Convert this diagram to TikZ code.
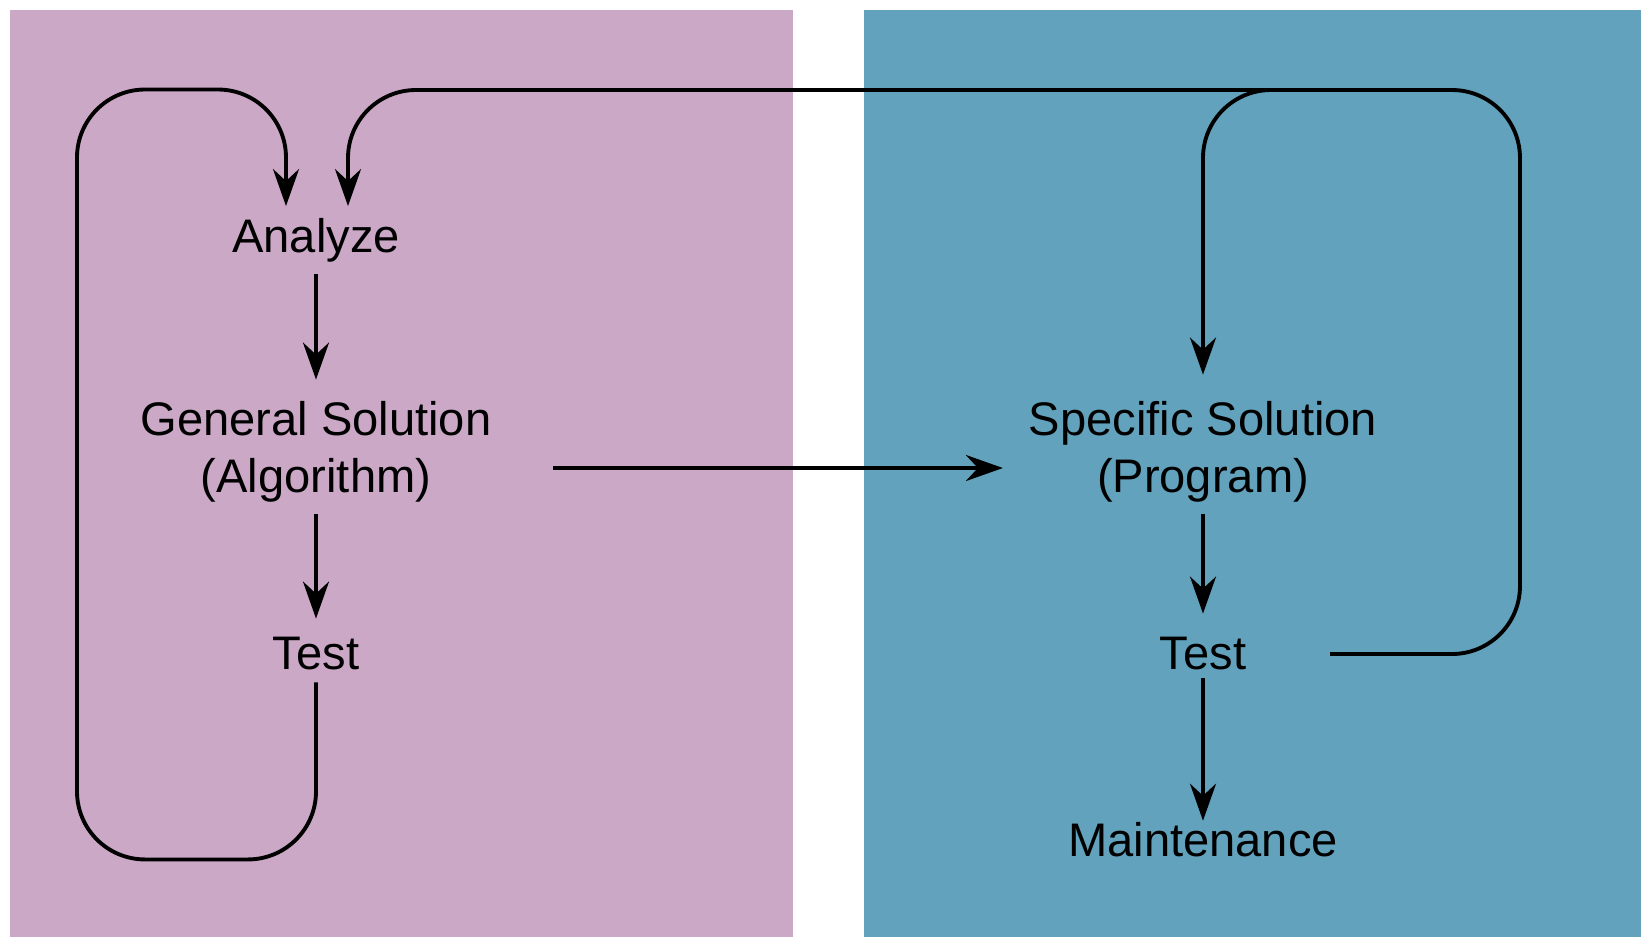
\documentclass[tikz,border=0pt]{standalone}
\usepackage{fontspec}
\setmainfont{Liberation Sans}
\usetikzlibrary{positioning, calc, arrows.meta}

\definecolor{algbg}{RGB}{202,168,198}
\definecolor{prgbg}{RGB}{98,162,188}

\begin{document}
\begin{tikzpicture}[
  every node/.append style={inner sep=0.12cm, outer sep=0pt},
  stp/.style={align=center, font=\fontsize{13.4}{16.2}\selectfont},
  arr/.style={-{Stealth[length=3.7mm, width=2.6mm, inset=1.2mm]}, line width=1.1pt},
  loop/.style={arr, rounded corners=0.68cm},
]
\useasboundingbox (0,0) rectangle (16.41,-9.37);

%% ─── backgrounds ────────────────────────────────────────────────────────────
\fill[algbg] (0.105,-0.095) rectangle (7.93,-9.37);
\fill[prgbg] (8.64,-0.095)  rectangle (16.41,-9.37);

%% ─── left column: algorithm ─────────────────────────────────────────────────
\node[stp] (ana)  at (3.16, -2.40) {Analyze};
\node[stp] (gen)  at (3.16, -4.52) {General Solution\\(Algorithm)};
\node[stp] (tst1) at (3.16, -6.54) {Test};
\draw[arr, shorten >=0.10cm] (ana) -- (gen);
\draw[arr, shorten >=0.07cm] (gen) -- (tst1);

%% ─── right column: program ──────────────────────────────────────────────────
\node[stp] (spec) at (12.03, -4.52) {Specific Solution\\(Program)};
\node[stp] (tst2) at (12.03, -6.54) {Test};
\node[stp] (mnt)  at (12.03, -8.40) {Maintenance};
\draw[arr, shorten >=0.12cm] (spec) -- (tst2);
\draw[arr, shorten <=-0.04cm, shorten >=-0.10cm] (tst2) -- (mnt);

%% ─── hand-over between the two halves ──────────────────────────────────────
\draw[arr] ([shift={(0.50,-0.16)}]gen.east) -- ([shift={(-0.14,-0.16)}]spec.west);

%% ─── feedback loops ─────────────────────────────────────────────────────────
\draw[loop] (tst1.south) -- ++(0,-1.77) -| (0.77,-0.895) -| ([xshift=-0.30cm]ana.north);
\coordinate (ret) at ($(tst2.east)+(0.72,0)$);
\draw[loop] (ret) -| (15.20,-0.90) -| ([xshift=0.32cm]ana.north);
\coordinate (jn) at (13.60,-0.90);
\draw[loop] (jn) -| ([yshift=0.15cm]spec.north);

\end{tikzpicture}
\end{document}
